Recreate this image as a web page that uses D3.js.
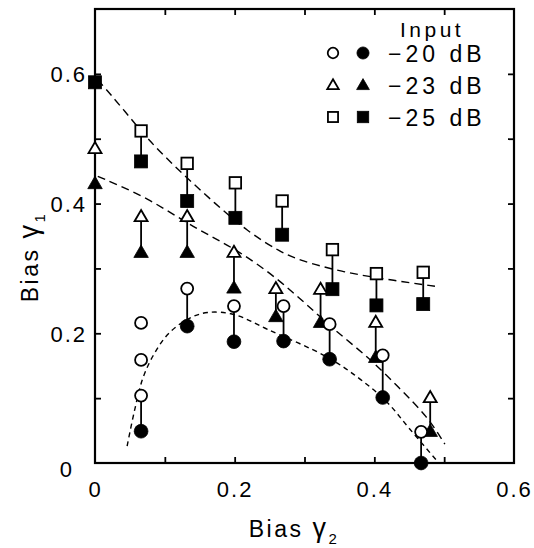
<!DOCTYPE html>
<html><head><meta charset="utf-8">
<script src="https://cdn.jsdelivr.net/npm/d3@7"></script>
<style>body{margin:0;background:#fff}svg{display:block}text{font-family:"Liberation Sans",Arial,sans-serif;fill:#000}</style>
</head><body>
<svg id="c" width="534" height="548"></svg>
<script>
// ---- data ----
const xTickVals = [0, 0.1, 0.2, 0.3, 0.4, 0.5, 0.6];
const yTickVals = [0, 0.1, 0.2, 0.3, 0.4, 0.5, 0.6];
const xLabelVals = [0, 0.2, 0.4, 0.6];
const yLabelVals = [0, 0.2, 0.4, 0.6];
const legendLabels = ["\u221220 dB", "\u221223 dB", "\u221225 dB"];

// -20 dB (circles)
const x20 = [0.066, 0.132, 0.199, 0.27, 0.336, 0.412, 0.467];
const open20 = [0.104, 0.269, 0.242, 0.242, 0.214, 0.166, 0.048];
const filled20 = [0.049, 0.211, 0.187, 0.188, 0.160, 0.101, 0.0];
const extraOpen20X = [0.066, 0.066];
const extraOpen20Y = [0.216, 0.159];

// -23 dB (triangles)
const x23 = [0, 0.066, 0.132, 0.199, 0.259, 0.323, 0.402, 0.48];
const open23 = [0.485, 0.38, 0.38, 0.325, 0.269, 0.268, 0.217, 0.101];
const filled23 = [0.431, 0.325, 0.325, 0.27, 0.226, 0.217, 0.163, 0.049];

// -25 dB (squares)
const x25 = [0, 0.066, 0.132, 0.201, 0.268, 0.34, 0.403, 0.47];
const open25 = [null, 0.512, 0.462, 0.432, 0.404, 0.329, 0.292, 0.294];
const filled25 = [0.587, 0.465, 0.404, 0.378, 0.352, 0.268, 0.243, 0.245];

// dashed fit curves
const curve25X = [0.004, 0.041, 0.076, 0.123, 0.17, 0.218, 0.266, 0.294, 0.356, 0.418, 0.49];
const curve25Y = [0.591, 0.545, 0.498, 0.448, 0.402, 0.357, 0.325, 0.312, 0.294, 0.283, 0.272];
const curve23X = [0.004, 0.076, 0.141, 0.204, 0.27, 0.341, 0.39, 0.437, 0.476, 0.501];
const curve23Y = [0.442, 0.409, 0.363, 0.329, 0.278, 0.206, 0.165, 0.114, 0.072, 0.029];
const curve20X = [0.046, 0.056, 0.068, 0.083, 0.104, 0.133, 0.161, 0.199, 0.247, 0.333, 0.38, 0.418, 0.451, 0.49];
const curve20Y = [0.026, 0.078, 0.129, 0.165, 0.198, 0.222, 0.232, 0.229, 0.206, 0.163, 0.129, 0.094, 0.052, 0.003];

// ---- drawing ----
const svg = d3.select("#c");
const L = 95, R = 514, T = 9, B = 463;
const x = d3.scaleLinear().domain([0, 0.6]).range([L, R]);
const y = d3.scaleLinear().domain([0, 0.7]).range([B, T]);

// frame
svg.append("rect").attr("x", L).attr("y", T).attr("width", R - L).attr("height", B - T)
  .attr("fill", "none").attr("stroke", "#000").attr("stroke-width", 2.2);

const tickLen = 6;
function styleAxis(g) {
  g.select(".domain").remove();
  g.selectAll("line").attr("stroke", "#000").attr("stroke-width", 1.8);
}
// inner ticks
svg.append("g").attr("transform", `translate(0,${B})`)
  .call(d3.axisBottom(x).tickValues(xTickVals.slice(1, -1)).tickSize(-tickLen).tickFormat(""))
  .call(styleAxis);
svg.append("g").attr("transform", `translate(0,${T})`)
  .call(d3.axisTop(x).tickValues(xTickVals.slice(1, -1)).tickSize(-tickLen).tickFormat(""))
  .call(styleAxis);
svg.append("g").attr("transform", `translate(${L},0)`)
  .call(d3.axisLeft(y).tickValues(yTickVals.slice(1)).tickSize(-tickLen).tickFormat(""))
  .call(styleAxis);
svg.append("g").attr("transform", `translate(${R},0)`)
  .call(d3.axisRight(y).tickValues(yTickVals.slice(1)).tickSize(-tickLen).tickFormat(""))
  .call(styleAxis);

// tick labels
const fmt = d => d === 0 ? "0" : d3.format(".1f")(d);
const gxl = svg.append("g").attr("transform", `translate(0,${B})`)
  .call(d3.axisBottom(x).tickValues(xLabelVals).tickSize(0).tickPadding(0).tickFormat(fmt));
gxl.select(".domain").remove();
gxl.selectAll("text").attr("font-size", 22).attr("dy", null).attr("y", 34)
  .attr("font-family", "Liberation Sans, Arial, sans-serif").attr("letter-spacing", 2);
const gyl = svg.append("g").attr("transform", `translate(${L},0)`)
  .call(d3.axisLeft(y).tickValues(yLabelVals).tickSize(0).tickPadding(0).tickFormat(fmt));
gyl.select(".domain").remove();
gyl.selectAll("text").attr("font-size", 22).attr("x", -8).attr("dy", "0.36em")
  .attr("font-family", "Liberation Sans, Arial, sans-serif").attr("letter-spacing", 2);
gyl.selectAll(".tick").filter(d => d === 0).select("text").attr("x", -21).attr("dy", "0.6em");

// axis titles
const xt = svg.append("text").attr("x", 294).attr("y", 537).attr("text-anchor", "middle")
  .attr("font-size", 23).attr("letter-spacing", 2.5);
xt.append("tspan").text("Bias  ");
xt.append("tspan").attr("font-size", 27).text("\u03B3");
xt.append("tspan").attr("font-size", 15).attr("dy", 7).text("2");

const yt = svg.append("text").attr("transform", "translate(38,257) rotate(-90)")
  .attr("text-anchor", "middle").attr("font-size", 23).attr("letter-spacing", 2.5);
yt.append("tspan").text("Bias  ");
yt.append("tspan").attr("font-size", 27).text("\u03B3");
yt.append("tspan").attr("font-size", 15).attr("dy", 7).text("1");

// dashed curves
const lineSmooth = d3.line().x(d => x(d[0])).y(d => y(d[1])).curve(d3.curveBasis);
const lineThrough = d3.line().x(d => x(d[0])).y(d => y(d[1])).curve(d3.curveCatmullRom);
const curves = [
  [d3.zip(curve25X, curve25Y), "8,5", lineSmooth],
  [d3.zip(curve23X, curve23Y), "8,5", lineSmooth],
  [d3.zip(curve20X, curve20Y), "5,4", lineThrough]
];
curves.forEach(([pts, dash, gen]) => {
  svg.append("path").attr("d", gen(pts)).attr("fill", "none").attr("stroke", "#000")
    .attr("stroke-width", 1.4).attr("stroke-dasharray", dash);
});

// connectors
function connectors(xs, op, fi) {
  xs.forEach((xv, i) => {
    if (op[i] == null || fi[i] == null) return;
    svg.append("line").attr("x1", x(xv)).attr("x2", x(xv)).attr("y1", y(op[i])).attr("y2", y(fi[i]))
      .attr("stroke", "#000").attr("stroke-width", 1.8);
  });
}
connectors(x20, open20, filled20);
connectors(x23, open23, filled23);
connectors(x25, open25, filled25);

// marker shapes
function marker(g, shape, filled, cx, cy, s) {
  let el;
  if (shape === "circle") {
    el = g.append("circle").attr("cx", cx).attr("cy", cy).attr("r", filled ? s * 0.55 : s * 0.48);
  } else if (shape === "square") {
    const h = filled ? s * 0.52 : s * 0.46;
    el = g.append("rect").attr("x", cx - h).attr("y", cy - h).attr("width", 2 * h).attr("height", 2 * h);
  } else {
    const h = filled ? s * 0.58 : s * 0.52;
    el = g.append("path").attr("d",
      `M${cx},${cy - h}L${cx + h * 1.0},${cy + h * 0.72}L${cx - h * 1.0},${cy + h * 0.72}Z`);
  }
  el.attr("fill", filled ? "#000" : "#fff").attr("stroke", "#000").attr("stroke-width", filled ? 0.8 : 1.8);
}
function series(xs, op, fi, shape) {
  xs.forEach((xv, i) => {
    if (fi[i] != null) marker(svg, shape, true, x(xv), y(fi[i]), 12.5);
  });
  xs.forEach((xv, i) => {
    if (op[i] != null) marker(svg, shape, false, x(xv), y(op[i]), 12.5);
  });
}
series(x25, open25, filled25, "square");
series(x23, open23, filled23, "triangle");
series(x20, open20, filled20, "circle");
extraOpen20X.forEach((xv, i) => marker(svg, "circle", false, x(xv), y(extraOpen20Y[i]), 12.5));

// legend
svg.append("text").attr("x", 400).attr("y", 37).attr("font-size", 21).attr("letter-spacing", 3.5).text("Input");
const shapes = ["circle", "triangle", "square"];
const rowsY = [53, 85, 117];
shapes.forEach((sh, i) => {
  marker(svg, sh, false, 333, rowsY[i], 11);
  marker(svg, sh, true, 363, rowsY[i], 11);
  svg.append("text").attr("x", 388).attr("y", rowsY[i] + 9).attr("font-size", 23)
    .attr("letter-spacing", 4).text(legendLabels[i]);
});
</script>
</body></html>
